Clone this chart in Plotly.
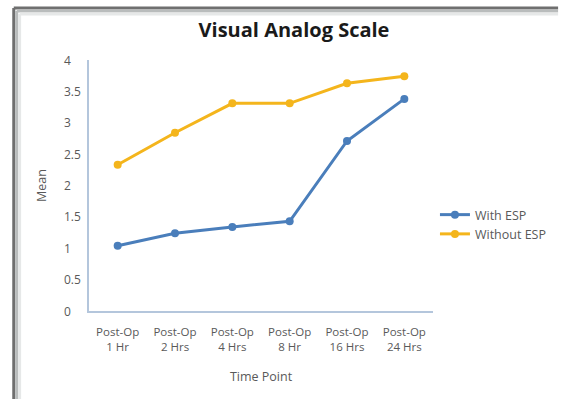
import plotly.graph_objects as go

# Visual Analog Scale means by post-operative time point
time_points = ["Post-Op<br>1 Hr", "Post-Op<br>2 Hrs", "Post-Op<br>4 Hrs",
               "Post-Op<br>8 Hr", "Post-Op<br>16 Hrs", "Post-Op<br>24 Hrs"]
with_esp = [1.04, 1.24, 1.34, 1.43, 2.71, 3.38]
without_esp = [2.33, 2.84, 3.31, 3.31, 3.63, 3.74]
y_ticks = [0, 0.5, 1, 1.5, 2, 2.5, 3, 3.5, 4]

BLUE = "#4a7ebb"
GOLD = "#f4b51c"
TEXT = "#595959"
AXIS = "#b4c6dc"
FONT = "Open Sans, Liberation Sans, sans-serif"

W, H = 564, 399
L, R, T, B = 89, 123, 60, 88
PW, PH = W - L - R, H - T - B


def px(x):
    return (x - L) / PW


def py(y):
    return (H - B - y) / PH


fig = go.Figure()
fig.add_trace(go.Scatter(
    x=time_points, y=with_esp, name="With ESP", mode="lines+markers",
    line=dict(color=BLUE, width=3), marker=dict(color=BLUE, size=8),
))
fig.add_trace(go.Scatter(
    x=time_points, y=without_esp, name="Without ESP", mode="lines+markers",
    line=dict(color=GOLD, width=3), marker=dict(color=GOLD, size=8),
))

# window frame edges (top and left) with a soft shadow
shapes = []
for off, col, w in [(0, "#6f6f6f", 3), (3, "#b9bcbc", 3), (6, "#e6e8e8", 3)]:
    shapes.append(dict(type="line", xref="paper", yref="paper",
                       x0=px(12 + off), x1=px(12 + off), y0=py(8 + off), y1=py(H + 5),
                       line=dict(color=col, width=w)))
    shapes.append(dict(type="line", xref="paper", yref="paper",
                       x0=px(12 + off), x1=px(W + 5), y0=py(8 + off), y1=py(8 + off),
                       line=dict(color=col, width=w)))

# left-aligned value labels along the y axis
annotations = [
    dict(x=px(61), y=v, xref="paper", yref="y", text=f"{v:g}", showarrow=False,
         xanchor="left", yanchor="middle", font=dict(size=12, color=TEXT))
    for v in y_ticks
]

fig.update_layout(
    width=W, height=H,
    margin=dict(l=L, r=R, t=T, b=B),
    paper_bgcolor="white", plot_bgcolor="white",
    font=dict(family=FONT, color=TEXT, size=11),
    title=dict(text="<b>Visual Analog Scale</b>", x=294 / W, xanchor="center",
               y=1 - 30 / H, yanchor="middle",
               font=dict(size=20, color="#1a1a1a", family=FONT)),
    xaxis=dict(
        range=[-0.5, 5.5], showgrid=False, zeroline=False,
        showline=True, linecolor=AXIS, linewidth=2,
        ticks="", tickfont=dict(size=11.5, color=TEXT), ticklabelstandoff=9,
        title=dict(text="Time Point", font=dict(size=12.5, color=TEXT), standoff=19),
    ),
    yaxis=dict(
        range=[0, 4], tickvals=y_ticks, showticklabels=False,
        showgrid=False, zeroline=False,
        showline=True, linecolor=AXIS, linewidth=2, ticks="",
        title=dict(text="Mean", font=dict(size=12.5, color=TEXT), standoff=38),
    ),
    legend=dict(x=px(443), y=py(200), xanchor="left", yanchor="top",
                font=dict(size=12.5, color=TEXT), itemwidth=30,
                bgcolor="rgba(0,0,0,0)", tracegroupgap=0),
    annotations=annotations,
    shapes=shapes,
    showlegend=True,
)

fig.write_html("out.html")
